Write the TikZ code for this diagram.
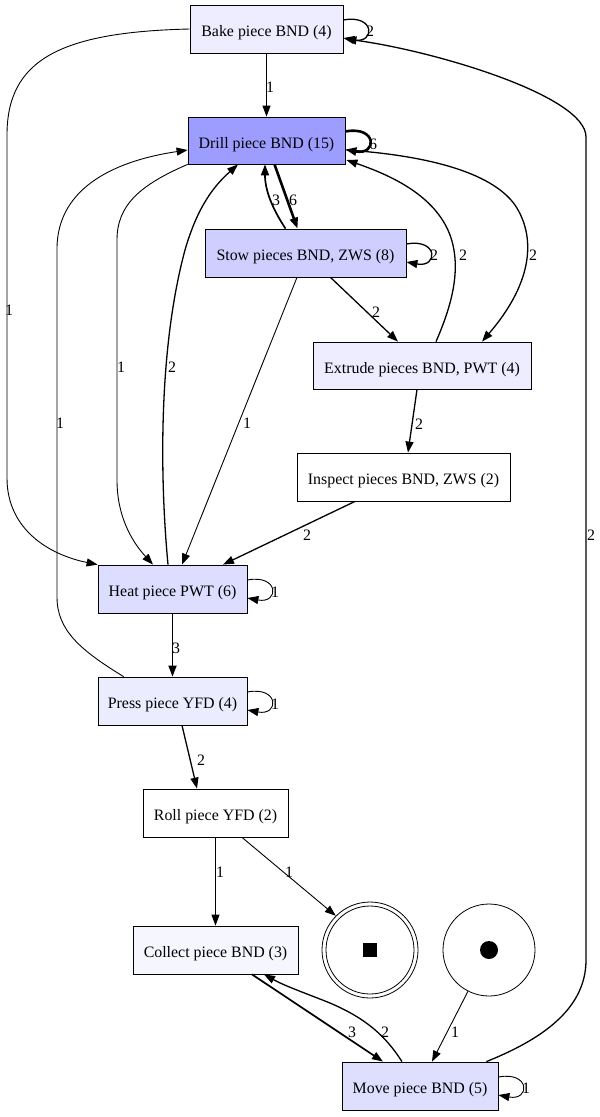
\documentclass[tikz,border=0pt]{standalone}
\usepackage{fontspec}
\setmainfont{Liberation Serif}
\usetikzlibrary{arrows.meta,calc}
\definecolor{cDrill}{RGB}{157,157,255}
\definecolor{cStow}{RGB}{206,206,255}
\definecolor{cHeat}{RGB}{221,221,255}
\definecolor{cMove}{RGB}{222,222,255}
\definecolor{cBake}{RGB}{237,237,255}
\definecolor{cExtr}{RGB}{237,237,255}
\definecolor{cPress}{RGB}{236,236,255}
\definecolor{cColl}{RGB}{246,246,255}
\begin{document}
\begin{tikzpicture}[x=1pt,y=-1pt,
  box/.style={draw=black,line width=0.8pt,rectangle,inner sep=0pt,minimum height=48pt,text height=15pt,text depth=0pt,font=\fontsize{15.9}{18}\selectfont},
  lbl/.style={inner sep=0pt,font=\fontsize{15.9}{18}\selectfont},
  tip/.style={-{Triangle[length=11pt,width=8pt]}},
  e1/.style={line width=0.9pt,tip},
  e2/.style={line width=1.3pt,tip},
  e3/.style={line width=1.7pt,tip},
  e6/.style={line width=2.6pt,tip}]
\useasboundingbox (0,0) rectangle (600,1117);

% nodes
\node[box,fill=cBake,minimum width=153pt] (bake) at (266.5,29) {Bake piece BND (4)};
\node[box,fill=cDrill,minimum width=157pt,minimum height=47pt] (drill) at (266.5,140.5) {Drill piece BND (15)};
\node[box,fill=cStow,minimum width=201pt] (stow) at (305.5,253) {Stow pieces BND, ZWS (8)};
\node[box,fill=cExtr,minimum width=218pt,minimum height=47pt] (extr) at (422,365.5) {Extrude pieces BND, PWT (4)};
\node[box,fill=white,minimum width=213pt] (insp) at (403.5,477) {Inspect pieces BND, ZWS (2)};
\node[box,fill=cHeat,minimum width=149pt] (heat) at (172.5,589) {Heat piece PWT (6)};
\node[box,fill=cPress,minimum width=149pt] (press) at (172.5,701) {Press piece YFD (4)};
\node[box,fill=white,minimum width=145pt] (roll) at (215.5,813) {Roll piece YFD (2)};
\node[box,fill=cColl,minimum width=165pt] (coll) at (215.5,950) {Collect piece BND (3)};
\node[box,fill=cMove,minimum width=156pt] (move) at (420,1086) {Move piece BND (5)};
\node[draw=black,line width=0.8pt,circle,minimum size=96pt,inner sep=0pt] (endp) at (370,950) {};
\draw[line width=0.8pt] (endp.center) circle[radius=44pt];
\fill[black] ($(endp.center)+(-7,-7)$) rectangle ($(endp.center)+(7,7)$);
\node[draw=black,line width=0.8pt,circle,minimum size=92pt,inner sep=0pt] (startp) at (489,950) {};
\fill[black] (startp.center) circle[radius=9pt];

% self loops
\draw[e2] ($(bake.east)+(0,-9)$) .. controls +(32,-6) and +(32,6) .. ($(bake.east)+(0,9)$) node[lbl,at={(370,31)}] {2};
\draw[e6] ($(drill.east)+(0,-9)$) .. controls +(32,-6) and +(32,6) .. ($(drill.east)+(0,9)$) node[lbl,at={(373,144)}] {6};
\draw[e2] ($(stow.east)+(0,-9)$) .. controls +(32,-6) and +(32,6) .. ($(stow.east)+(0,9)$) node[lbl,at={(434,255)}] {2};
\draw[e1] ($(heat.east)+(0,-9)$) .. controls +(32,-6) and +(32,6) .. ($(heat.east)+(0,9)$) node[lbl,at={(275,592)}] {1};
\draw[e1] ($(press.east)+(0,-9)$) .. controls +(32,-6) and +(32,6) .. ($(press.east)+(0,9)$) node[lbl,at={(275,704)}] {1};
\draw[e1] ($(move.east)+(0,-9)$) .. controls +(32,-6) and +(32,6) .. ($(move.east)+(0,9)$) node[lbl,at={(526,1088)}] {1};

% edges
\draw[e1] (bake.south) -- (drill.north) node[lbl,at={(270,87)}] {1};
\draw[e1] (bake.west) .. controls (60,32) and (7,60) .. (7,135) -- (7,478)
  .. controls (7,530) and (50,555) .. (heat.north west) node[lbl,at={(9,310)}] {1};
\draw[e2] ($(move.north east)+(-12,0)$) .. controls (540,1040) and (586,1010) .. (586,960) -- (586,137)
  .. controls (586,95) and (430,50) .. ($(bake.east)+(2,10)$) node[lbl,at={(591,535)}] {2};
\draw[e6] ($(drill.south)+(8,0)$) -- ($(stow.north)+(-8,0)$) node[lbl,at={(293,200)}] {6};
\draw[e3] ($(stow.north)+(-20,0)$) .. controls (272,208) and (265,190) .. ($(drill.south)+(-1.5,0)$) node[lbl,at={(276,200)}] {3};
\draw[e2] ($(stow.south)+(25,0)$) -- ($(extr.north)+(-24,0)$) node[lbl,at={(376,312)}] {2};
\draw[e2] ($(extr.north)+(14,0)$) .. controls (452,305) and (462,268) .. (450,235)
  .. controls (435,195) and (390,175) .. ($(drill.east)+(1,19.5)$) node[lbl,at={(463,255)}] {2};
\draw[e2] ($(drill.east)+(1,9.5)$) .. controls (420,155) and (490,170) .. (515,205)
  .. controls (535,235) and (535,280) .. ($(extr.north)+(60,0)$) node[lbl,at={(533,255)}] {2};
\draw[e2] ($(extr.south)+(-5,0)$) -- ($(insp.north)+(4.5,0)$) node[lbl,at={(419,424)}] {2};
\draw[e2] ($(insp.south)+(-48.5,0)$) -- ($(heat.north)+(50.5,0)$) node[lbl,at={(307,535)}] {2};
\draw[e1] ($(stow.south)+(-8.5,0)$) -- ($(heat.north)+(9.5,0)$) node[lbl,at={(247,423)}] {1};
\draw[e1] (drill.south west) .. controls (140,185) and (117,205) .. (117,240) -- (117,480)
  .. controls (117,520) and (135,545) .. ($(heat.north)+(-19.5,0)$) node[lbl,at={(121,367)}] {1};
\draw[e2] ($(heat.north)+(-4.5,0)$) .. controls (160,480) and (158,350) .. (185,250)
  .. controls (198,205) and (215,185) .. ($(drill.south)+(-28.5,0)$) node[lbl,at={(172,367)}] {2};
\draw[e1] ($(press.north west)+(26,0)$) .. controls (80,650) and (57,630) .. (57,597) -- (57,249)
  .. controls (57,185) and (120,160) .. ($(drill.west)+(0,9.5)$) node[lbl,at={(60,423)}] {1};
\draw[e3] (heat.south) -- (press.north) node[lbl,at={(176,648)}] {3};
\draw[e2] ($(press.south)+(9.5,0)$) -- ($(roll.north)+(-18.5,0)$) node[lbl,at={(201,760)}] {2};
\draw[e1] (roll.south) -- (coll.north) node[lbl,at={(220,872)}] {1};
\draw[e1] ($(roll.south)+(26.5,0)$) -- (endp.135) node[lbl,at={(289,872)}] {1};
\draw[e3] ($(coll.south)+(36.5,0)$) -- ($(move.north)+(-37,0)$) node[lbl,at={(352,1032)}] {3};
\draw[e2] ($(move.north)+(-18,0)$) .. controls (385,1035) and (365,1018) .. (330,1003)
  .. controls (305,993) and (285,986) .. ($(coll.south)+(48.5,0)$) node[lbl,at={(385,1032)}] {2};
\draw[e1] (startp.243) -- ($(move.north)+(12,0)$) node[lbl,at={(455,1032)}] {1};
\end{tikzpicture}
\end{document}
